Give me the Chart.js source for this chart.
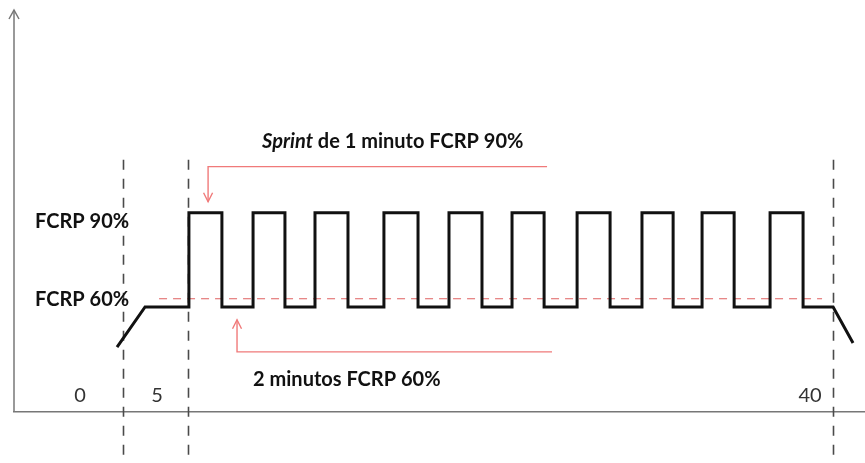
<!DOCTYPE html>
<html>
<head>
<meta charset="utf-8">
<script src="https://cdn.jsdelivr.net/npm/chart.js@4"></script>
<style>
  html, body { margin: 0; padding: 0; background: #ffffff; }
  #wrap { width: 865px; height: 463px; position: relative; }
</style>
</head>
<body>
<div id="wrap"><canvas id="c" width="865" height="463"></canvas></div>
<script>
// ---- data (time in minutes, intensity in % FCRP) ----
const timePoints = [1.15, 2.67, 5.05, 5.05, 6.84, 6.84, 8.53, 8.53, 10.26, 10.26, 11.89, 11.89, 13.68, 13.68,
  15.63, 15.63, 17.48, 17.48, 19.16, 19.16, 20.95, 20.95, 22.58, 22.58, 24.32, 24.32, 26.11, 26.11,
  27.90, 27.90, 29.63, 29.63, 31.32, 31.32, 32.89, 32.89, 34.63, 34.63, 36.58, 36.58, 38.37, 38.37, 40.0, 41.08];
const intensity = [47.2, 60, 60, 90, 90, 60, 60, 90, 90, 60, 60, 90, 90, 60,
  60, 90, 90, 60, 60, 90, 90, 60, 60, 90, 90, 60, 60, 90,
  90, 60, 60, 90, 90, 60, 60, 90, 90, 60, 60, 90, 90, 60, 60, 48.5];
const refLineTime = [3.43, 39.4];
const refLineValue = [62.6, 62.6];
const phaseMarkers = [1.47, 5.0, 40.0];        // dashed vertical separators
const phaseMarkerTop = 106.9;
const tickLabels = ['0', '5', '40'];
const tickLabelTime = [-0.86, 3.32, 38.75];
const tickLabelValue = 31.9;
const levelLabels = ['FCRP 90%', 'FCRP 60%'];
const levelLabelValue = [87.1, 62.2];
const levelLabelTime = -3.30;
const sprintArrow = { t: [24.48, 6.09, 6.09], v: [104.7, 104.7, 93.5] };
const recoveryArrow = { t: [24.75, 7.66, 7.66], v: [45.65, 45.65, 55.9] };
const sprintText = { italic: 'Sprint', rest: ' de 1 minuto FCRP 90%', t: 9.02, v: 112.7 };
const recoveryText = { text: '2 minutos FCRP 60%', t: 8.53, v: 36.7 };

const FONT = 'Lato, "Open Sans", sans-serif';

const overlay = {
  id: 'overlay',
  beforeDatasetsDraw(chart) {
    const ctx = chart.ctx, xs = chart.scales.x, ys = chart.scales.y;
    ctx.save();
    // phase separators
    ctx.strokeStyle = '#4a4a4a';
    ctx.lineWidth = 1.6;
    ctx.setLineDash([10, 9]);
    phaseMarkers.forEach(t => {
      const x = Math.round(xs.getPixelForValue(t)) + 0.5;
      ctx.beginPath();
      ctx.moveTo(x, ys.getPixelForValue(phaseMarkerTop));
      ctx.lineTo(x, chart.height);
      ctx.stroke();
    });
    ctx.restore();
  },
  afterDraw(chart) {
    const ctx = chart.ctx, xs = chart.scales.x, ys = chart.scales.y;
    ctx.save();
    // y axis with arrow head
    const ax = xs.left, ay = chart.chartArea.top - 2;
    ctx.strokeStyle = '#777';
    ctx.lineWidth = 1.5;
    ctx.beginPath();
    ctx.moveTo(ax, ay);
    ctx.lineTo(ax, chart.chartArea.bottom);
    ctx.stroke();
    ctx.beginPath();
    ctx.moveTo(ax - 5, ay + 9);
    ctx.lineTo(ax, ay);
    ctx.lineTo(ax + 5, ay + 9);
    ctx.stroke();

    // red arrows
    const drawArrow = (a) => {
      ctx.strokeStyle = '#f07a7a';
      ctx.fillStyle = '#f07a7a';
      ctx.lineWidth = 1.4;
      ctx.beginPath();
      a.t.forEach((t, i) => {
        const x = xs.getPixelForValue(t), y = ys.getPixelForValue(a.v[i]);
        if (i === 0) ctx.moveTo(x, y); else ctx.lineTo(x, y);
      });
      ctx.stroke();
      const n = a.t.length;
      const tx = xs.getPixelForValue(a.t[n - 1]), ty = ys.getPixelForValue(a.v[n - 1]);
      const py = ys.getPixelForValue(a.v[n - 2]);
      const dir = ty > py ? 1 : -1;
      ctx.beginPath();
      ctx.moveTo(tx - 4.5, ty - dir * 9);
      ctx.lineTo(tx, ty);
      ctx.lineTo(tx + 4.5, ty - dir * 9);
      ctx.stroke();
    };
    drawArrow(sprintArrow);
    drawArrow(recoveryArrow);

    // texts
    ctx.textBaseline = 'middle';
    ctx.fillStyle = '#111';
    ctx.textAlign = 'left';
    ctx.font = 'italic bold 20px ' + FONT;
    let x = xs.getPixelForValue(sprintText.t);
    const y = ys.getPixelForValue(sprintText.v);
    ctx.fillText(sprintText.italic, x, y);
    x += ctx.measureText(sprintText.italic).width;
    ctx.font = 'bold 20px ' + FONT;
    ctx.fillText(sprintText.rest, x, y);
    ctx.fillText(recoveryText.text, xs.getPixelForValue(recoveryText.t), ys.getPixelForValue(recoveryText.v));

    levelLabels.forEach((l, i) => {
      ctx.fillText(l, xs.getPixelForValue(levelLabelTime), ys.getPixelForValue(levelLabelValue[i]));
    });

    ctx.font = '20px ' + FONT;
    ctx.fillStyle = '#333';
    ctx.textAlign = 'center';
    tickLabels.forEach((l, i) => {
      ctx.fillText(l, xs.getPixelForValue(tickLabelTime[i]), ys.getPixelForValue(tickLabelValue));
    });
    ctx.restore();
  }
};

new Chart(document.getElementById('c'), {
  type: 'line',
  data: {
    datasets: [
      {
        data: timePoints.map((t, i) => ({ x: t, y: intensity[i] })),
        borderColor: '#111111',
        borderWidth: 3,
        pointRadius: 0,
        tension: 0,
        fill: false,
        borderJoinStyle: 'miter',
        order: 1
      },
      {
        data: refLineTime.map((t, i) => ({ x: t, y: refLineValue[i] })),
        borderColor: '#e06060',
        borderWidth: 1.2,
        borderDash: [8, 6],
        pointRadius: 0,
        fill: false,
        order: 2
      }
    ]
  },
  options: {
    responsive: false,
    animation: false,
    layout: { padding: { left: 14, top: 12, right: 0, bottom: 51 } },
    plugins: { legend: { display: false }, tooltip: { enabled: false } },
    scales: {
      x: {
        type: 'linear',
        min: -4.44, max: 41.73,
        ticks: { display: false },
        grid: { display: false, drawTicks: false },
        border: { display: true, color: '#777', width: 1.5 }
      },
      y: {
        min: 26.5, max: 154,
        ticks: { display: false },
        grid: { display: false, drawTicks: false },
        border: { display: false }
      }
    }
  },
  plugins: [overlay]
});
</script>
</body>
</html>
